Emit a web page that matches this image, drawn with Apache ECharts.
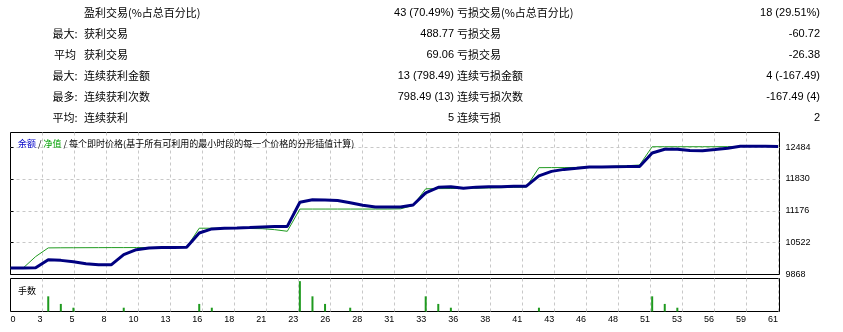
<!DOCTYPE html>
<html>
<head>
<meta charset="utf-8">
<script src="https://cdn.jsdelivr.net/npm/echarts@6/dist/echarts.min.js"></script>
<style>
html,body{margin:0;padding:0;background:#fff;}
#main{width:843px;height:332px;}
</style>
</head>
<body>
<div id="main"></div>
<script>
// 统计表
var statPrefix = ['', '最大:', '平均', '最大:', '最多:', '平均:'];
var winLabels = ['盈利交易(%占总百分比)', '获利交易', '获利交易', '连续获利金额', '连续获利次数', '连续获利'];
var winValues = ['43 (70.49%)', '488.77', '69.06', '13 (798.49)', '798.49 (13)', '5'];
var lossLabels = ['亏损交易(%占总百分比)', '亏损交易', '亏损交易', '连续亏损金额', '连续亏损次数', '连续亏损'];
var lossValues = ['18 (29.51%)', '-60.72', '-26.38', '4 (-167.49)', '-167.49 (4)', '2'];

// 图表
var titleParts = ['余额', '净值', '每个即时价格(基于所有可利用的最小时段的每一个价格的分形插值计算)'];
var volTitle = '手数';
var tradeLabels = ['0','3','5','8','10','13','16','18','21','23','26','28','31','33','36','38','41','43','46','48','51','53','56','59','61'];
var yTicks = [9868, 10522, 11176, 11830, 12484];

// 每笔交易 0..61
var balance = [10000, 10000, 10005, 10172, 10158, 10128, 10090, 10068, 10066, 10275,
  10377, 10412, 10420, 10424, 10426, 10720, 10804, 10818, 10822, 10833,
  10845, 10855, 10855, 11350, 11401, 11397, 11385, 11340, 11289, 11254,
  11252, 11252, 11295, 11544, 11656, 11667, 11640, 11661, 11667, 11671,
  11677, 11681, 11892, 11984, 12025, 12047, 12072, 12076, 12080, 12082,
  12086, 12362, 12437, 12437, 12411, 12409, 12433, 12460, 12499, 12500,
  12498, 12495];
var equity = [10000, 10000, 10236, 10414, 10416, 10417, 10418, 10419, 10420, 10420,
  10421, 10421, 10422, 10423, 10426, 10818, 10818, 10816, 10814, 10812,
  10808, 10788, 10755, 11211, 11211, 11211, 11211, 11211, 11211, 11211,
  11211, 11215, 11285, 11627, 11630, 11632, 11634, 11638, 11645, 11650,
  11656, 11663, 12060, 12062, 12062, 12066, 12072, 12080, 12088, 12100,
  12115, 12490, 12490, 12490, 12490, 12490, 12490, 12492, 12495, 12495,
  12495, 12495];

var volTrades = [3, 4, 5, 9, 15, 16, 23, 24, 25, 27, 33, 34, 35, 42, 51, 52, 53];
var volLots = [0.04, 0.02, 0.01, 0.01, 0.02, 0.01, 0.08, 0.04, 0.02, 0.01, 0.04, 0.02, 0.01, 0.01, 0.04, 0.02, 0.01];

var cjk = '"Noto Sans CJK SC", sans-serif';
var num = '"Liberation Sans", Arial, sans-serif';
var gridLine = {show: true, interval: 0, showMinLine: false, lineStyle: {color: '#c8c8c8', type: [3, 3], width: 1}};

function statTexts(){
	var out = [];
	for (var i = 0; i < statPrefix.length; i++) {
		var y = 13 + i * 21;
		out.push({type: 'text', x: 65, y: y, style: {text: statPrefix[i], font: '11px ' + cjk, fill: '#000', align: 'center', verticalAlign: 'middle'}});
		out.push({type: 'text', x: 84, y: y, style: {text: winLabels[i], font: '11px ' + cjk, fill: '#000', align: 'left', verticalAlign: 'middle'}});
		out.push({type: 'text', x: 454, y: y, style: {text: winValues[i], font: '11px ' + num, fill: '#000', align: 'right', verticalAlign: 'middle'}});
		out.push({type: 'text', x: 457, y: y, style: {text: lossLabels[i], font: '11px ' + cjk, fill: '#000', align: 'left', verticalAlign: 'middle'}});
		out.push({type: 'text', x: 820, y: y, style: {text: lossValues[i], font: '11px ' + num, fill: '#000', align: 'right', verticalAlign: 'middle'}});
	}
	return out;
}

var chart = echarts.init(document.getElementById('main'));
chart.setOption({
	animation: false,
	title: [{
		left: 13, top: 134,
		text: '{b|' + titleParts[0] + '} / {g|' + titleParts[1] + '} / ' + titleParts[2],
		textStyle: {fontSize: 9, fontWeight: 'normal', color: '#000', fontFamily: cjk,
			rich: {b: {color: '#0000c8', fontSize: 9, fontFamily: cjk}, g: {color: '#00a000', fontSize: 9, fontFamily: cjk}}}
	}, {
		left: 13, top: 281, text: volTitle,
		textStyle: {fontSize: 9, fontWeight: 'normal', color: '#000', fontFamily: cjk}
	}],
	graphic: statTexts(),
	grid: [
		{left: 10.5, top: 132.5, width: 769, height: 142, show: true, borderColor: '#000', borderWidth: 1},
		{left: 10.5, top: 278.5, width: 769, height: 33, show: true, borderColor: '#000', borderWidth: 1},
		{left: 10.5, top: 132.5, width: 767.5, height: 142},
		{left: 10.5, top: 278.5, width: 767.5, height: 33}
	],
	xAxis: [
		{gridIndex: 0, type: 'value', min: 0, max: 61.12, show: false},
		{gridIndex: 1, type: 'value', min: 0, max: 61.12, show: false},
		{gridIndex: 2, type: 'category', data: tradeLabels, boundaryGap: false,
			axisLine: {show: false}, axisTick: {show: false}, axisLabel: {show: false}, splitLine: gridLine},
		{gridIndex: 3, type: 'category', data: tradeLabels, boundaryGap: false,
			axisLine: {show: false}, axisTick: {show: false},
			axisLabel: {interval: 0, fontSize: 9, fontFamily: num, color: '#000', margin: 4,
				align: 'right', alignMinLabel: 'left', alignMaxLabel: 'right'},
			splitLine: gridLine}
	],
	yAxis: [
		{gridIndex: 0, type: 'value', position: 'right', min: 9868, max: 12782,
			axisLine: {show: false},
			axisTick: {show: true, length: 3, customValues: yTicks, lineStyle: {color: '#000'}},
			axisLabel: {customValues: yTicks, fontSize: 9, fontFamily: num, color: '#000', margin: 6,
				formatter: function(v){ return String(v); }},
			splitLine: {show: true, showMinLine: false, lineStyle: {color: '#c8c8c8', type: [3, 3], width: 1}}},
		{gridIndex: 1, type: 'value', min: 0, max: 0.087, show: false},
		{gridIndex: 2, type: 'value', show: false},
		{gridIndex: 3, type: 'value', show: false}
	],
	series: [
		{type: 'line', xAxisIndex: 0, yAxisIndex: 0, symbol: 'none', z: 3,
			data: equity.map(function(v, i){ return [i, v]; }),
			lineStyle: {color: '#1f9a1f', width: 1}},
		{type: 'line', xAxisIndex: 0, yAxisIndex: 0, symbol: 'none', z: 4,
			data: balance.map(function(v, i){ return [i, v]; }),
			lineStyle: {color: '#000080', width: 3}},
		{type: 'bar', xAxisIndex: 1, yAxisIndex: 1, barWidth: 2,
			data: volTrades.map(function(t, i){ return [t, volLots[i]]; }),
			itemStyle: {color: '#1f9a1f'}}
	]
});
</script>
</body>
</html>
